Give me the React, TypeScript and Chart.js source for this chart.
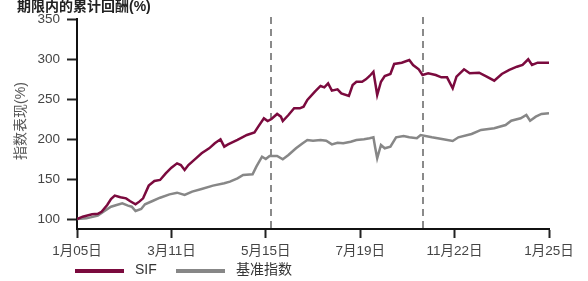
import React, { useEffect, useRef } from "react";
import { Chart, registerables } from "chart.js";

Chart.register(...registerables);

const chartTitle = "期限内的累计回酬(%)";
const yAxisTitle = "指数表现(%)";
const seriesNames = ["SIF", "基准指数"];
const seriesColors = ["#7b0a3e", "#878787"];

const xTickDays = [0, 50, 100, 150, 200, 250];
const xTickLabels = ["1月05日", "3月11日", "5月15日", "7月19日", "11月22日", "1月25日"];
const yTicks = [100, 150, 200, 250, 300, 350];
const markerDays = [103, 183];

const sifDays = [0, 3, 8, 11, 13, 16, 18, 20, 23, 26, 28, 31, 33, 35, 38, 41, 44, 47, 50, 53, 55, 57, 59, 63, 66, 70, 73, 76, 78, 80, 85, 90, 94, 96, 99, 101, 103, 106, 108, 109, 112, 115, 118, 120, 122, 126, 129, 131, 133, 135, 138, 140, 144, 146, 148, 151, 153, 155, 157, 158, 159, 161, 163, 166, 168, 172, 176, 178, 181, 183, 186, 190, 193, 196, 199, 201, 205, 208, 213, 217, 221, 225, 229, 233, 236, 239, 241, 244, 250];
const sifValues = [100, 102.9, 105.9, 106.5, 109.1, 117.5, 125, 129.2, 127.1, 125.8, 122.5, 118.3, 121.7, 125.8, 141.7, 147.5, 148.8, 157.1, 164.2, 169.6, 167.5, 161.3, 167.5, 175.8, 182.1, 188.3, 194.6, 199.6, 190.4, 193.3, 198.8, 205, 208.3, 215.4, 225.8, 222.5, 225, 231.3, 227.9, 222.5, 230, 238.4, 238.4, 240.4, 248.8, 259.2, 266.3, 264.6, 269.6, 260.4, 262.1, 257.1, 253.8, 267.5, 271.6, 271.6, 274.6, 278.8, 284.1, 269.6, 255, 271.6, 278.8, 281.3, 293.8, 295.4, 298.8, 292.5, 287.1, 280, 282.1, 280, 277.1, 277.1, 263.4, 277.9, 287.1, 282.1, 282.9, 277.9, 272.9, 281.3, 286.3, 290.4, 292.5, 299.6, 292.5, 295.4, 295.4];

const benchDays = [0, 5, 11, 14, 18, 21, 24, 27, 29, 31, 34, 36, 40, 44, 49, 53, 57, 61, 66, 72, 78, 81, 85, 88, 93, 95, 98, 100, 102, 106, 109, 112, 116, 119, 122, 125, 129, 132, 135, 138, 141, 145, 148, 152, 155, 157, 158, 159, 161, 163, 166, 169, 173, 176, 180, 182, 188, 194, 199, 202, 209, 214, 221, 227, 230, 235, 238, 240, 243, 246, 250];
const benchValues = [100, 100.8, 104.2, 109.2, 115.4, 117.5, 119.6, 116.7, 115.4, 110, 112.5, 118.4, 122.5, 126.6, 130.8, 132.9, 130, 134.2, 137.5, 141.7, 144.6, 146.7, 150.8, 155, 155.8, 165.4, 177.9, 175, 178.8, 178.8, 174.6, 180, 188.4, 193.8, 198.8, 197.9, 198.8, 197.9, 193.3, 195.4, 194.6, 196.6, 198.8, 199.6, 200.9, 202.1, 188.4, 175.9, 192.5, 188.4, 190.4, 202.1, 203.8, 202.1, 200.9, 205, 202.1, 199.6, 197.5, 202.1, 206.3, 211.3, 213.4, 217.5, 222.9, 225.9, 230, 222.9, 227.9, 231.3, 232.1];

const FONT = "'Liberation Sans', Arial, 'Noto Sans CJK SC', sans-serif";

const decorPlugin = {
  id: "decor",
  beforeDatasetsDraw(chart: any) {
    const { ctx, chartArea, scales } = chart;
    ctx.save();
    ctx.strokeStyle = "#8a8a8a";
    ctx.lineWidth = 2;
    ctx.setLineDash([7, 5]);
    markerDays.forEach((d) => {
      const x = Math.round(scales.x.getPixelForValue(d));
      ctx.beginPath();
      ctx.moveTo(x, chartArea.top - 2);
      ctx.lineTo(x, chartArea.bottom);
      ctx.stroke();
    });
    ctx.restore();
  },
  afterDraw(chart: any) {
    const { ctx } = chart;
    ctx.save();
    ctx.fillStyle = "#222";
    ctx.font = `bold 14px ${FONT}`;
    ctx.textAlign = "left";
    ctx.textBaseline = "middle";
    ctx.fillText(chartTitle, 17, 7);
    ctx.save();
    ctx.translate(21, 121);
    ctx.rotate(-Math.PI / 2);
    ctx.fillStyle = "#555";
    ctx.font = `14px ${FONT}`;
    ctx.textAlign = "center";
    ctx.textBaseline = "middle";
    ctx.fillText(yAxisTitle, 0, 0);
    ctx.restore();
    const starts = [75, 176];
    ctx.font = `14px ${FONT}`;
    ctx.textAlign = "left";
    ctx.textBaseline = "middle";
    seriesNames.forEach((name, i) => {
      const x0 = starts[i];
      ctx.fillStyle = seriesColors[i];
      ctx.fillRect(x0, 269, 49, 4);
      ctx.fillStyle = "#333";
      ctx.fillText(name, x0 + 60, 270);
    });
    ctx.restore();
  },
};

export default function App() {
  const ref = useRef<HTMLCanvasElement | null>(null);
  useEffect(() => {
    document.body.style.margin = "0";
    const canvas = ref.current!;
    const chart = new Chart(canvas, {
      type: "line",
      data: {
        datasets: [
          {
            label: seriesNames[0],
            data: sifDays.map((d, i) => ({ x: d, y: sifValues[i] })),
            borderColor: seriesColors[0],
            backgroundColor: seriesColors[0],
            borderWidth: 2.5,
            pointRadius: 0,
            tension: 0,
          },
          {
            label: seriesNames[1],
            data: benchDays.map((d, i) => ({ x: d, y: benchValues[i] })),
            borderColor: seriesColors[1],
            backgroundColor: seriesColors[1],
            borderWidth: 2.5,
            pointRadius: 0,
            tension: 0,
          },
        ],
      },
      options: {
        responsive: false,
        animation: false,
        devicePixelRatio: 1,
        layout: { padding: { top: 19, right: 39, left: 0, bottom: 0 } },
        plugins: {
          legend: { display: false },
          title: { display: false },
          tooltip: { enabled: false },
        },
        scales: {
          x: {
            type: "linear",
            min: 0,
            max: 250,
            afterBuildTicks: (axis: any) => {
              axis.ticks = xTickDays.map((v) => ({ value: v }));
            },
            afterFit: (axis: any) => {
              axis.height = 52;
            },
            grid: {
              drawOnChartArea: false,
              drawTicks: true,
              tickLength: 9,
              tickWidth: 2,
              tickColor: "#222",
            },
            border: { display: true, color: "#111", width: 2 },
            ticks: {
              autoSkip: false,
              maxRotation: 0,
              padding: 5,
              color: "#444",
              font: { size: 13.5, family: FONT },
              callback: (v: any) => {
                const idx = xTickDays.indexOf(Number(v));
                return idx >= 0 ? xTickLabels[idx] : "";
              },
            },
          },
          y: {
            type: "linear",
            min: 87.5,
            max: 350,
            afterBuildTicks: (axis: any) => {
              axis.ticks = yTicks.map((v) => ({ value: v }));
            },
            afterFit: (axis: any) => {
              axis.width = 77;
            },
            grid: {
              drawOnChartArea: false,
              drawTicks: true,
              tickLength: 10,
              tickWidth: 2,
              tickColor: "#222",
            },
            border: { display: true, color: "#111", width: 2 },
            ticks: {
              padding: 7,
              color: "#444",
              font: { size: 13.5, family: FONT },
            },
          },
        },
      },
      plugins: [decorPlugin],
    });
    return () => chart.destroy();
  }, []);
  return (
    <div style={{ width: 588, height: 281, position: "relative" }}>
      <canvas ref={ref} width={588} height={281} style={{ display: "block", width: 588, height: 281 }} />
    </div>
  );
}
